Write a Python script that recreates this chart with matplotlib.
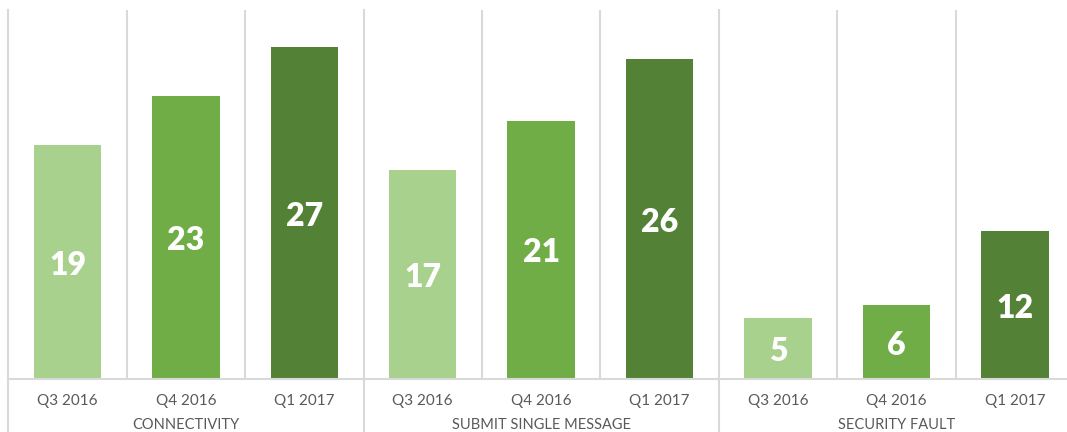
import numpy as np
import matplotlib.pyplot as plt
import matplotlib.transforms as mtransforms

groups = ["CONNECTIVITY", "SUBMIT SINGLE MESSAGE", "SECURITY FAULT"]
quarters = ["Q3 2016", "Q4 2016", "Q1 2017"]
connectivity = [19, 23, 27]
submit_single = [17, 21, 26]
security_fault = [5, 6, 12]
colors = ["#A9D18E", "#70AD47", "#538135"]

grid_col = "#D9D9D9"
text_col = "#595959"
plt.rcParams["font.family"] = ["Lato", "DejaVu Sans"]

W, H = 1067, 432
fig = plt.figure(figsize=(W / 100, H / 100), dpi=100)
# axes pixel box (left, baseline, right, top)
left, right, base, top = 8.3, 1074, 379, 10
ax = fig.add_axes([left / W, (H - base) / H, (right - left) / W, (base - top) / H])

series = [connectivity, submit_single, security_fault]
x = 0
xs, labels = [], []
for g, vals in enumerate(series):
    for q, v in enumerate(vals):
        ax.bar(x, v, width=0.57, color=colors[q], zorder=2)
        ax.text(x, v / 2 - 0.25, str(v), ha="center", va="center", color="white",
                fontsize=23, fontweight="heavy", zorder=3)
        xs.append(x)
        labels.append(quarters[q])
        x += 1

n = len(xs)
ax.set_xlim(-0.5, n - 0.5)
ax.set_ylim(0, 30)
ax.set_yticks([])
ax.set_xticks(xs)
ax.set_xticklabels(labels, fontsize=11, color=text_col)
ax.tick_params(axis="x", length=0, pad=11)
for s in ["top", "right", "left"]:
    ax.spines[s].set_visible(False)
ax.spines["bottom"].set_color(grid_col)
ax.spines["bottom"].set_linewidth(1.5)

bottom_frac = -(H - base) / (base - top)
for i in range(n):
    xb = i - 0.5
    if i % 3 == 0:
        ax.axvline(xb, ymin=bottom_frac, ymax=1, color=grid_col, lw=1.5,
                   clip_on=False, zorder=1)
    else:
        ax.axvline(xb, color=grid_col, lw=1.5, zorder=1)

trans = mtransforms.blended_transform_factory(ax.transData, ax.transAxes)
for g, name in enumerate(groups):
    ax.text(g * 3 + 1, -(418 - base) / (base - top), name, transform=trans,
            ha="center", va="top", fontsize=10.5, color=text_col, clip_on=False)

fig.savefig("out.png", dpi=100)
